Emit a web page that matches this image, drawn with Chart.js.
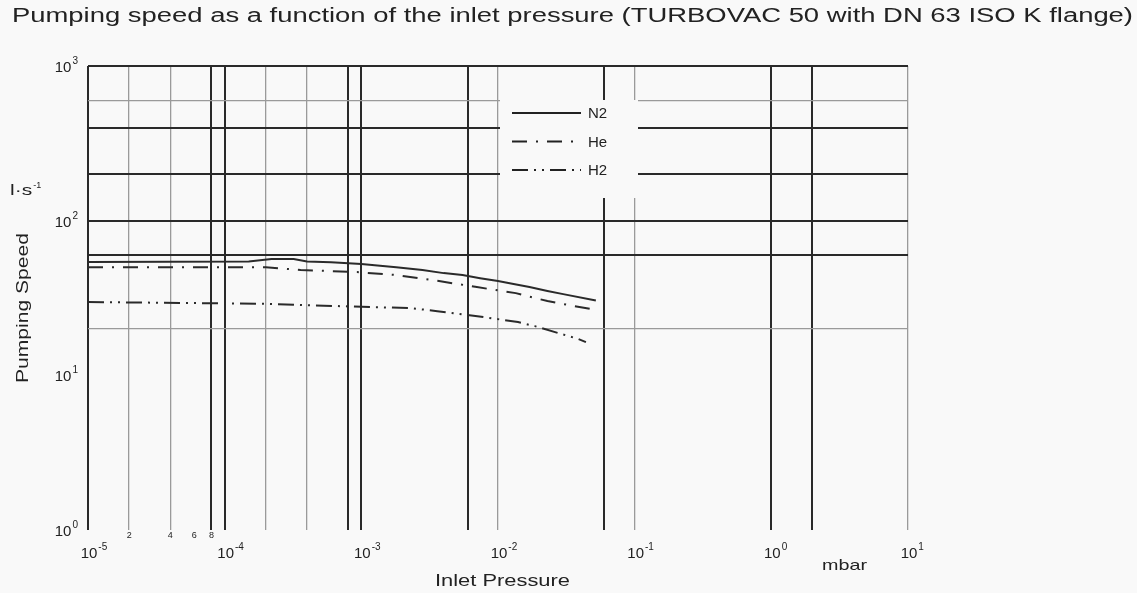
<!DOCTYPE html>
<html>
<head>
<meta charset="utf-8">
<script src="https://cdn.jsdelivr.net/npm/chart.js@4.4.0/dist/chart.umd.min.js"></script>
<style>
  html, body { margin: 0; padding: 0; background: #f9f9f9; }
  canvas { display: block; }
</style>
</head>
<body>
<canvas id="speedChart" width="1137" height="593"></canvas>
<script>
// Pumping speed (l/s), against inlet pressure (mbar)
var n2Pressure = [1e-5, 1.5e-4, 2.2e-4, 3.2e-4, 4e-4, 6e-4, 1e-3, 1.8e-3, 2.8e-3, 4e-3, 5.5e-3, 7.4e-3, 1e-2, 1.3e-2, 1.7e-2, 2.3e-2, 3e-2, 5.2e-2];
var n2Speed    = [54, 54.5, 56.5, 56.5, 54.5, 53.8, 52.4, 50, 48, 45.8, 44.5, 42.5, 40.7, 38.9, 37.2, 35.1, 33.5, 30.5];

var hePressure = [1e-5, 2e-4, 3.6e-4, 9.3e-4, 1.8e-3, 3.7e-3, 7e-3, 1.35e-2, 2.3e-2, 3.65e-2, 4.8e-2];
var heSpeed    = [50, 50, 48, 46.5, 44.5, 40.7, 37.2, 34, 30.2, 28, 26.8];

var h2Pressure = [1e-5, 2e-4, 7e-4, 2.3e-3, 3.6e-3, 7.8e-3, 1.4e-2, 1.86e-2, 2.74e-2, 3.85e-2, 4.4e-2];
var h2Speed    = [29.8, 29, 28, 27.2, 26, 23.8, 22.1, 20.8, 18.8, 17.2, 16.4];

// grid lines as they appear on the sheet
var xGridValues = [1e-5, 2e-5, 4e-5, 8e-5, 1e-4, 2e-4, 4e-4, 8e-4, 1e-3, 6e-3, 1e-2, 6e-2, 1e-1, 1, 2, 10];
var xDarkValues = [1e-5, 8e-5, 1e-4, 8e-4, 1e-3, 6e-3, 6e-2, 1, 2];
var yGridValues = [1, 10, 20, 60, 100, 200, 400, 600, 1000];
var yHiddenValues = [1, 10];
var yDarkValues = [60, 100, 200, 400, 1000];

// tick labels: base 10 and exponent
var xLabelValues = [1e-5, 1e-4, 1e-3, 1e-2, 1e-1, 1, 10];
var xLabelExps   = ['-5', '-4', '-3', '-2', '-1', '0', '1'];
var yLabelValues = [1, 10, 100, 1000];
var yLabelExps   = ['0', '1', '2', '3'];
var minorValues  = [2e-5, 4e-5, 6e-5, 8e-5];
var minorLabels  = ['2', '4', '6', '8'];

var seriesNames = ['N2', 'He', 'H2'];
var seriesDash  = [[], [15, 9, 2, 9], [16, 6, 2, 6, 2, 6]];

var FONT = '"Liberation Sans", Arial, Helvetica, sans-serif';
var INK = '#222';

function toPoints(xs, ys) {
    return xs.map(function(x, i) { return { x: x, y: ys[i] }; });
}

function fittedText(ctx, text, x, y, width, size, align) {
    ctx.save();
    ctx.font = size + 'px ' + FONT;
    var w = ctx.measureText(text).width;
    ctx.translate(x, y);
    ctx.scale(width / w, 1);
    ctx.textAlign = align || 'left';
    ctx.fillText(text, 0, 0);
    ctx.restore();
}

var sheetPlugin = {
    id: 'sheet',
    beforeDraw: function(chart) {
        var ctx = chart.ctx;
        ctx.save();
        ctx.fillStyle = '#f9f9f9';
        ctx.fillRect(0, 0, chart.width, chart.height);
        ctx.restore();
    },
    afterDraw: function(chart) {
        var ctx = chart.ctx;
        var xs = chart.scales.x, ys = chart.scales.y;
        ctx.save();
        ctx.fillStyle = INK;
        ctx.textBaseline = 'alphabetic';

        // title
        fittedText(ctx, 'Pumping speed as a function of the inlet pressure (TURBOVAC 50 with DN 63 ISO K flange)', 12, 22, 1121, 20, 'left');

        // x tick labels
        xLabelValues.forEach(function(v, i) {
            var px = xs.getPixelForValue(v);
            ctx.font = '15px ' + FONT;
            ctx.textAlign = 'center';
            ctx.fillText('10', px + 1, 558);
            var bw = ctx.measureText('10').width;
            ctx.font = '10px ' + FONT;
            ctx.textAlign = 'left';
            ctx.fillText(xLabelExps[i], px + 1 + bw / 2 + 1, 550);
        });

        // y tick labels
        yLabelValues.forEach(function(v, i) {
            var py = ys.getPixelForValue(v);
            ctx.font = '10px ' + FONT;
            var ew = ctx.measureText(yLabelExps[i]).width;
            ctx.textAlign = 'right';
            ctx.fillText(yLabelExps[i], 78, py - 2);
            ctx.font = '15px ' + FONT;
            ctx.fillText('10', 78 - ew - 1, py + 6);
        });

        // minor labels under first decade
        ctx.font = '9px ' + FONT;
        ctx.textAlign = 'center';
        minorValues.forEach(function(v, i) {
            ctx.fillText(minorLabels[i], xs.getPixelForValue(v), 538);
        });

        // axis titles and units
        fittedText(ctx, 'Inlet Pressure', 435, 586, 135, 16, 'left');
        fittedText(ctx, 'mbar', 822, 570, 45, 15, 'left');
        ctx.save();
        ctx.translate(28, 383);
        ctx.rotate(-Math.PI / 2);
        fittedText(ctx, 'Pumping Speed', 0, 0, 150, 17, 'left');
        ctx.restore();
        ctx.font = '15px ' + FONT;
        ctx.textAlign = 'left';
        var unitW = ctx.measureText('l\u00b7s').width * 1.4;
        fittedText(ctx, 'l\u00b7s', 10, 195, unitW, 15, 'left');
        ctx.font = '9px ' + FONT;
        ctx.fillText('-1', 10 + unitW + 1, 188);

        // legend
        ctx.fillStyle = '#f9f9f9';
        ctx.fillRect(500, 100, 138, 98);
        ctx.fillStyle = INK;
        ctx.strokeStyle = INK;
        ctx.lineWidth = 2;
        ctx.font = '15px ' + FONT;
        ctx.textBaseline = 'middle';
        seriesNames.forEach(function(name, i) {
            var ly = 113 + i * 28.5;
            ctx.setLineDash(seriesDash[i]);
            ctx.beginPath();
            ctx.moveTo(512, ly);
            ctx.lineTo(581, ly);
            ctx.stroke();
            ctx.fillText(name, 588, ly + 1);
        });
        ctx.restore();
    }
};

function gridColor(dark, hidden) {
    return function(c) {
        var v = c.tick.value;
        if (hidden && hidden.indexOf(v) >= 0) return 'rgba(0,0,0,0)';
        return dark.indexOf(v) >= 0 ? '#2a2a2a' : '#9a9a9a';
    };
}
function gridWidth(dark) {
    return function(c) {
        return dark.indexOf(c.tick.value) >= 0 ? 2 : 1.3;
    };
}

var ctx = document.getElementById('speedChart').getContext('2d');
new Chart(ctx, {
    type: 'line',
    data: {
        datasets: [
            { label: seriesNames[0], data: toPoints(n2Pressure, n2Speed), borderDash: seriesDash[0] },
            { label: seriesNames[1], data: toPoints(hePressure, heSpeed), borderDash: seriesDash[1] },
            { label: seriesNames[2], data: toPoints(h2Pressure, h2Speed), borderDash: seriesDash[2] }
        ].map(function(d) {
            d.borderColor = '#2a2a2a';
            d.borderWidth = 2;
            d.pointRadius = 0;
            d.fill = false;
            d.tension = 0;
            return d;
        })
    },
    options: {
        responsive: false,
        animation: false,
        devicePixelRatio: 1,
        layout: { padding: { top: 66, right: 229, left: 0, bottom: 0 } },
        plugins: {
            legend: { display: false },
            title: { display: false },
            tooltip: { enabled: false }
        },
        scales: {
            x: {
                type: 'logarithmic',
                min: 1e-5,
                max: 10,
                afterBuildTicks: function(scale) {
                    scale.ticks = xGridValues.map(function(v) { return { value: v }; });
                },
                afterFit: function(scale) { scale.height = 63; },
                ticks: { display: false },
                border: { display: false },
                grid: { color: gridColor(xDarkValues), lineWidth: gridWidth(xDarkValues), drawTicks: false }
            },
            y: {
                type: 'logarithmic',
                min: 1,
                max: 1000,
                afterBuildTicks: function(scale) {
                    scale.ticks = yGridValues.map(function(v) { return { value: v }; });
                },
                afterFit: function(scale) { scale.width = 88; },
                ticks: { display: false },
                border: { display: false },
                grid: { color: gridColor(yDarkValues, yHiddenValues), lineWidth: gridWidth(yDarkValues), drawTicks: false }
            }
        }
    },
    plugins: [sheetPlugin]
});
</script>
</body>
</html>
